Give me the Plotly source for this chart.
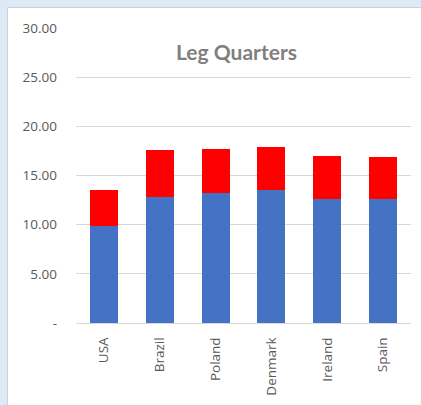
import plotly.graph_objects as go

categories = ["USA", "Brazil", "Poland", "Denmark", "Ireland", "Spain"]
base_values = [9.85, 12.81, 13.18, 13.55, 12.64, 12.57]
top_values = [3.67, 4.80, 4.54, 4.34, 4.36, 4.33]
tick_vals = [0, 5, 10, 15, 20, 25, 30]
tick_text = ["-", "5.00", "10.00", "15.00", "20.00", "25.00", "30.00"]
title_text = "Leg Quarters"

W, H = 421, 405
ML, MR, MT, MB = 76, 10, 28, 82
pw, ph = W - ML - MR, H - MT - MB

def px(x):
    return (x - ML) / pw

def py(y):
    return 1 - (y - MT) / ph

fig = go.Figure()
fig.add_trace(go.Bar(x=categories, y=base_values, marker=dict(color="#4472C4", line=dict(width=0))))
fig.add_trace(go.Bar(x=categories, y=top_values, marker=dict(color="#FF0000", line=dict(width=0))))

fig.update_layout(
    width=W, height=H,
    barmode="stack", bargap=0.5,
    showlegend=False,
    paper_bgcolor="#DCE9F6",
    plot_bgcolor="white",
    margin=dict(l=ML, r=MR, t=MT, b=MB, pad=0),
    font=dict(family="'Open Sans', sans-serif", color="#595959", size=12),
    shapes=[
        dict(type="rect", xref="paper", yref="paper", layer="below",
             x0=px(7.5), x1=px(430), y0=py(420), y1=py(7.5),
             fillcolor="white", line=dict(color="#D0D0D0", width=1)),
    ],
    annotations=[
        dict(text="<b>" + title_text + "</b>", xref="paper", yref="paper",
             x=px(236), y=py(51), xanchor="center", yanchor="middle",
             showarrow=False, font=dict(family="Lato, sans-serif", size=21, color="#7F7F7F")),
    ],
)
fig.update_yaxes(range=[0, 30], tickvals=tick_vals, ticktext=tick_text,
                 showgrid=True, gridcolor="#D9D9D9", gridwidth=1,
                 zeroline=False, showline=False, ticks="",
                 ticklabelstandoff=18, tickfont=dict(size=13.5, color="#595959"))
fig.update_xaxes(tickangle=-90, showline=True, linecolor="#D9D9D9", linewidth=1,
                 ticks="", ticklabelstandoff=8, tickfont=dict(size=13.5, color="#595959"))

fig.write_html("out.html", config={"displayModeBar": False},
               post_script="document.body.style.margin='0';document.body.style.overflow='hidden';")
